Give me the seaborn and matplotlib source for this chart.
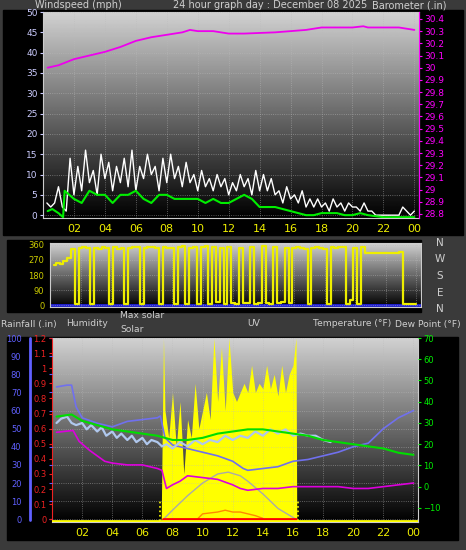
import numpy as np
import pandas as pd
import matplotlib
matplotlib.use("Agg")
from matplotlib import pyplot as plt
from matplotlib.patches import Rectangle
import seaborn as sns

sns.set_style("dark")
plt.rcParams['font.family'] = ['DejaVu Sans']

# ---- data (hours of day) ----
gust = [3, 2, 3, 7, 2, 1, 14, 5, 12, 6, 16, 8, 11, 5, 15, 9, 13, 6, 12, 8, 14, 7, 16, 6,
        12, 9, 15, 10, 12, 6, 14, 8, 15, 9, 12, 7, 13, 8, 10, 6, 11, 7, 9, 6, 10, 7, 9, 5,
        8, 6, 10, 7, 9, 5, 11, 6, 10, 6, 9, 5, 6, 3, 7, 4, 5, 3, 6, 2, 4, 2, 4, 2,
        3, 1, 4, 2, 3, 1, 3, 2, 2, 1, 3, 1, 1, 0, 0, 0, 0, 0, 0, 0, 2, 1, 0, 1]
wind_avg_t = [0.3, 0.6, 1.0, 1.3, 1.4, 2.0, 2.5, 3.0, 3.5, 4.0, 4.5, 5.0, 5.5, 6.0, 6.5, 7.0, 7.5,
              8.0, 8.5, 9.0, 9.5, 10.0, 10.5, 11.0, 11.5, 12.0, 12.5, 13.0, 13.5, 14.0, 14.5,
              15.0, 15.5, 16.0, 16.5, 17.0, 17.5, 18.0, 18.5, 19.0, 19.5, 20.0, 20.5, 21.0,
              22.0, 23.0, 24.0]
wind_avg = [1, 1.5, 0.5, -0.5, 6, 4, 3, 6, 5, 5, 3, 5, 5, 6, 4, 3, 5,
            5, 4, 4, 4, 4, 3, 4, 3, 3, 4, 5, 4, 2, 2,
            2, 1.5, 1, 0.5, 0, 0, 0.5, 0.5, 0.5, 0, 0, 0.5, 0,
            -0.5, -0.5, -0.5]
baro_t = [0.3, 1, 2, 3, 4, 5, 6, 7, 8, 9, 9.5, 10, 11, 12, 13, 14, 15, 16, 17, 18, 19, 20, 20.7,
          21, 22, 23, 23.5, 24]
baro = [30.00, 30.02, 30.07, 30.10, 30.13, 30.17, 30.22, 30.25, 30.27, 30.29, 30.31, 30.30,
        30.30, 30.28, 30.28, 30.285, 30.29, 30.30, 30.31, 30.33, 30.33, 30.33, 30.34,
        30.33, 30.33, 30.33, 30.32, 30.31]
# quarter-hour wind direction (degrees)
wind_dir = [240, 250, 245, 265, 280, 335, 5, 340, 345, 340, 5, 340, 335, 345, 340, 5,
            345, 335, 340, 5, 340, 345, 345, 5, 340, 345, 345, 340, 5, 345, 340, 340,
            5, 345, 350, 5, 340, 345, 5, 345, 350, 10, 345, 20, 340, 10, 345, 15,
            10, 340, 15, 15, 345, 10, 15, 350, 15, 10, 345, 15, 20, 340, 15, 340,
            345, 340, 335, 5, 340, 345, 340, 335, 5, 345, 340, 345, 345, 5, 30, 340,
            5, 345, 310, 310, 310, 310, 310, 310, 310, 310, 310, 315, 10, 10, 10, 10]

humid_t = [0.3, 1, 1.3, 1.6, 2, 3, 4, 5, 6, 7, 7.2, 7.5, 8, 9, 10, 11, 12, 12.7, 13, 14, 15,
           16, 17, 18, 19, 20, 21, 22, 23, 24]
humidity = [73, 74, 74, 62, 56, 53, 51, 54, 55, 56, 57, 45, 41, 39, 37, 35, 32, 28, 27, 28,
            29, 32, 33, 35, 37, 40, 42, 50, 56, 60]
indoor_t = [0.3, 1.4, 1.8, 2.5, 3.5, 4, 5, 6, 7, 7.3, 7.6, 8, 8.5, 9, 10, 11, 12, 12.5, 13,
            14, 15, 16, 17, 18, 19, 20, 21, 22, 23, 24]
indoor = [48, 49, 43, 38, 32, 31, 30, 30, 28, 27, 17, 19, 21, 24, 23, 22, 19, 17, 16,
          17, 17, 18, 18, 18, 18, 17, 17, 18, 19, 20]
temp_t = [0.3, 1.3, 2, 3, 4, 5, 6, 7, 8, 9, 10, 11, 12, 13, 14, 15, 16, 17, 18, 19, 20, 21,
          22, 23, 24]
temp = [33, 34, 31, 29, 27, 26, 25, 24, 22, 22, 23, 25, 26, 27, 27, 26, 25, 24, 22, 21, 20,
        19, 18, 16, 15]
dew_t = [0.3, 0.6, 1.0, 1.3, 1.6, 2.0, 2.3, 2.6, 3.0, 3.3, 3.6, 4.0, 4.3, 4.6, 5.0, 5.3, 5.6,
         6.0, 6.3, 6.6, 7.0, 7.3, 7.6, 8.0, 8.5, 9.0, 9.5, 10.0, 10.5, 11.0, 11.5, 12.0,
         12.5, 13.0, 13.5, 14.0, 14.5, 15.0, 15.5, 16.0, 16.5, 17.0, 17.5, 18.0, 18.5]
dew = [30, 32, 33, 30, 29, 30, 27, 29, 26, 28, 24, 26, 23, 25, 22, 24, 21,
       23, 20, 22, 21, 19, 20, 18, 21, 19, 22, 20, 22, 21, 24, 22,
       24, 23, 26, 24, 27, 25, 27, 24, 25, 24, 24, 22, 21]
solar_t = [7.25, 7.4, 7.5, 7.75, 8.0, 8.25, 8.5, 8.75, 9.0, 9.25, 9.5, 9.75, 10.0, 10.25,
           10.5, 10.75, 11.0, 11.25, 11.5, 11.75, 12.0, 12.25, 12.5, 12.75, 13.0, 13.25,
           13.5, 13.75, 14.0, 14.25, 14.5, 14.75, 15.0, 15.25, 15.5, 15.75, 16.0, 16.2, 16.25]
solar = [0, 100, 60, 45, 70, 40, 65, 25, 55, 45, 75, 50, 60, 70, 55, 100, 65, 95, 60, 100,
         70, 65, 70, 75, 70, 85, 70, 75, 72, 85, 72, 80, 68, 85, 70, 80, 85, 100, 0]
max_solar_t = [7.4, 8, 9, 10, 11, 11.7, 12.5, 13, 14, 15, 16.2]
max_solar = [0, 5, 13, 20, 25, 26, 24, 21, 14, 6, 0]
uv_t = [9.7, 10, 10.5, 11, 11.5, 12, 12.5, 13, 13.5, 14]
uv = [0.5, 3, 3.5, 4, 5, 4, 4, 3, 2, 0.5]

hour_ticks = [2, 4, 6, 8, 10, 12, 14, 16, 18, 20, 22, 24]
hour_labels = ["02", "04", "06", "08", "10", "12", "14", "16", "18", "20", "22", "00"]

W, H = 466, 550
fig = plt.figure(figsize=(W / 100, H / 100), dpi=100, facecolor="#3a3a3a")


def frac(x0, y0, x1, y1):
    return [x0 / W, 1 - y1 / H, (x1 - x0) / W, (y1 - y0) / H]


def black_box(x0, y0, x1, y1):
    fig.patches.append(Rectangle((x0 / W, 1 - y1 / H), (x1 - x0) / W, (y1 - y0) / H,
                                 transform=fig.transFigure, color="black", zorder=-5))


black_box(3, 10, 463, 235)
black_box(7, 240, 421, 312)
black_box(7, 337, 458, 540)

grad = np.linspace(0.82, 0.0, 256).reshape(-1, 1)


def style_panel(ax, ylim):
    ax.set_xlim(0, 24.3)
    ax.set_ylim(*ylim)
    ax.imshow(grad, cmap="gray", vmin=0, vmax=1, aspect="auto",
              extent=[0, 24.3, ylim[0], ylim[1]], zorder=0)
    ax.set_facecolor("black")
    ax.grid(True, color="#bbbbbb", linestyle=":", linewidth=0.6, alpha=0.6)
    ax.set_axisbelow(False)
    for s in ax.spines.values():
        s.set_color("#cccccc")
    ax.tick_params(colors="#dddddd", labelsize=6.5, length=2, pad=2)
    ax.set_xlabel("")
    ax.set_ylabel("")


# ---- panel 1: wind + barometer ----
ax1 = fig.add_axes(frac(43, 12, 419, 218))
style_panel(ax1, (-0.7, 50))
gt = np.arange(1, len(gust) + 1) * 0.25
sns.lineplot(x=gt, y=gust, ax=ax1, color="white", linewidth=1.0, zorder=3)
sns.lineplot(x=wind_avg_t, y=wind_avg, ax=ax1, color="#00ee00", linewidth=1.5, zorder=4)
ax1.set_yticks(range(0, 51, 5))
ax1.set_xticks(hour_ticks)
ax1.set_xticklabels(hour_labels, color="#eeee00", fontsize=8)
ax1.tick_params(axis="y", colors="#ccccff")
ax1b = ax1.twinx()
ax1b.set_ylim(28.767, 30.457)
sns.lineplot(x=baro_t, y=baro, ax=ax1b, color="#ee00ee", linewidth=1.3)
bt = np.round(np.arange(28.8, 30.45, 0.1), 1)
ax1b.set_yticks(bt)
ax1b.set_yticklabels([f"{v:g}" for v in bt])
ax1b.tick_params(colors="#ff00ff", labelsize=6.5, length=2, pad=2)
ax1b.set_ylabel("")
for s in ax1b.spines.values():
    s.set_visible(False)
ax1b.spines["right"].set_visible(True)
ax1b.spines["right"].set_color("#ff00ff")
tc = "#cfcfcf"
fig.text(35 / W, 1 - 5 / H, "Windspeed (mph)", color=tc, fontsize=7, va="center")
fig.text(173 / W, 1 - 5 / H, "24 hour graph day : December 08 2025", color=tc,
         fontsize=7, va="center")
fig.text(372 / W, 1 - 5 / H, "Barometer (.in)", color=tc, fontsize=7, va="center")

# ---- panel 2: wind direction ----
ax2 = fig.add_axes(frac(50, 243, 421, 307))
style_panel(ax2, (-10, 370))
dt = np.arange(1, len(wind_dir) + 1) * 0.25
dt = dt[dt <= 24]
ax2.axhline(0, color="#2222dd", linewidth=2, zorder=2)
sns.lineplot(x=dt, y=wind_dir[:len(dt)], ax=ax2, color="#eeee00", linewidth=1.6, zorder=3,
             drawstyle="steps-mid")
ax2.set_yticks([0, 90, 180, 270, 360])
ax2.set_xticks(hour_ticks)
ax2.set_xticklabels([])
ax2.tick_params(axis="y", colors="#cccc00", labelsize=6)
for i, d in enumerate(["N", "W", "S", "E", "N"]):
    fig.text(440 / W, 1 - (243 + i * 16.5) / H, d, color=tc, fontsize=7.5, ha="center",
             va="center")

# middle labels
for x, y, s in [(1, 324, "Rainfall (.in)"), (66, 324, "Humidity"), (120, 316, "Max solar"),
                (120, 329, "Solar"), (247, 324, "UV"), (313, 324, "Temperature (°F)"),
                (395, 324, "Dew Point (°F)")]:
    fig.text(x / W, 1 - y / H, s, color=tc, fontsize=6.6, va="center")

# ---- panel 3: humidity / solar / temperature ----
ax3 = fig.add_axes(frac(52, 338, 418, 522))
style_panel(ax3, (-1.5, 100))
ax3.fill_between(solar_t, solar, color="#ffff00", zorder=2, linewidth=0)
sns.lineplot(x=max_solar_t, y=max_solar, ax=ax3, color="#aaaaaa", linewidth=1, zorder=3)
sns.lineplot(x=uv_t, y=uv, ax=ax3, color="#ff8800", linewidth=1, zorder=3)
ax3.plot([7.4, 16.2], [0, 0], color="red", linewidth=2, zorder=3)
ax3.axhline(-1, color="#ffff00", linewidth=2, zorder=3)
ax3.vlines([7.2, 16.35], -1, 10, colors="#ffff00", linestyles=":", linewidth=1.2, zorder=3)
sns.lineplot(x=humid_t, y=humidity, ax=ax3, color="#7070ee", linewidth=1.2, zorder=4)
sns.lineplot(x=indoor_t, y=indoor, ax=ax3, color="#dd00dd", linewidth=1.2, zorder=4)
ax3.set_yticks(range(0, 101, 10))
ax3.tick_params(axis="y", colors="#6060ff", pad=20, labelsize=6)
ax3.spines["left"].set_color("#ee2222")
ax3.set_xticks(hour_ticks)
ax3.set_xticklabels(hour_labels, color="#eeee00", fontsize=8)

ax3t = ax3.twinx()
ax3t.set_ylim(-16.6, 70)
sns.lineplot(x=dew_t, y=dew, ax=ax3t, color="#b0c8ee", linewidth=1.6, zorder=4)
sns.lineplot(x=temp_t, y=temp, ax=ax3t, color="#00dd00", linewidth=1.5, zorder=5)
ax3t.set_yticks(range(-10, 71, 10))
ax3t.tick_params(colors="#00ee00", labelsize=6, length=2, pad=2)
ax3t.set_ylabel("")
for s in ax3t.spines.values():
    s.set_visible(False)

ax3r = ax3.twinx()
ax3r.set_ylim(-0.018, 1.2)
ax3r.yaxis.tick_left()
rt = np.round(np.arange(0, 1.21, 0.1), 1)
ax3r.set_yticks(rt)
ax3r.set_yticklabels([f"{v:g}" for v in rt])
ax3r.tick_params(colors="#ee2222", labelsize=6, length=2, pad=2)
for s in ax3r.spines.values():
    s.set_visible(False)
fig.lines.append(plt.Line2D([30 / W, 30 / W], [1 - 520 / H, 1 - 338 / H],
                            transform=fig.transFigure, color="#6060ff", linewidth=2))

fig.savefig("out.png", dpi=100, facecolor=fig.get_facecolor())
